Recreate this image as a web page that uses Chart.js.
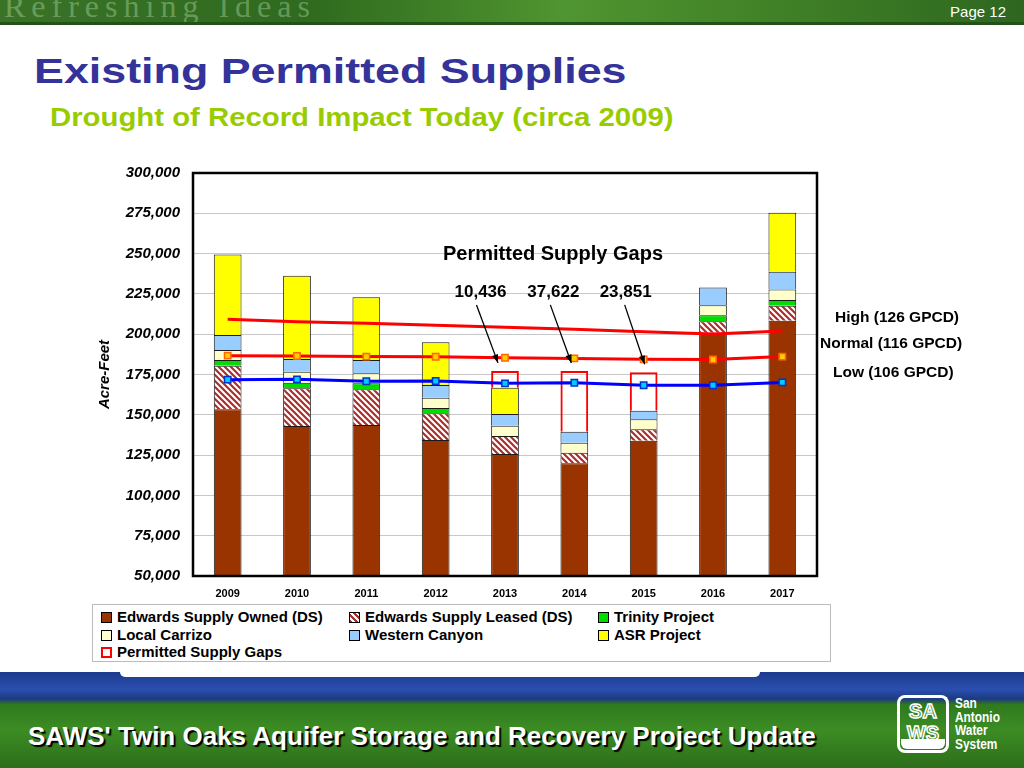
<!DOCTYPE html>
<html>
<head>
<meta charset="utf-8">
<script src="https://cdn.jsdelivr.net/npm/chart.js@4"></script>
<style>
  body { margin: 0; width: 1024px; height: 768px; overflow: hidden; background: #fff; font-family: "Liberation Sans", Arial, sans-serif; }
  #slide { position: relative; width: 1024px; height: 768px; }
  #top { position: absolute; left: 0; top: 0; width: 1024px; height: 22px;
    background: linear-gradient(90deg, #3a7328 0%, #2f6a1e 30%, #4f9530 55%, #3d7d25 80%, #2e6620 100%);
    border-bottom: 3px solid #24501a; overflow: hidden; }
  #top .ghost { position: absolute; left: 4px; top: -10px; font: 32px/32px "Liberation Serif", serif; letter-spacing: 6px; color: rgba(190,225,180,0.4); }
  #top .page { position: absolute; right: 18px; top: 3px; font: 15px "Liberation Sans", Arial; color: #fff; }
  h1 { position: absolute; left: 34px; top: 53px; margin: 0; font: bold 35px/35px "Liberation Sans", Arial; color: #333399; transform: scaleX(1.28); transform-origin: left top; white-space: nowrap; }
  h2 { position: absolute; left: 50px; top: 104px; margin: 0; font: bold 25.5px/26px "Liberation Sans", Arial; color: #99cc00; transform: scaleX(1.15); transform-origin: left top; white-space: nowrap; }
  #wrap { position: absolute; left: 90px; top: 160px; width: 910px; height: 440px; }
  #legend { position: absolute; left: 92px; top: 604px; width: 737px; height: 56px; border: 1px solid #bbb; }
  .li { position: absolute; font: bold 15px "Liberation Sans", Arial; color: #000; white-space: nowrap; }
  .li span.m { position: absolute; left: 0; top: 4px; width: 9px; height: 9px; border: 1px solid #000; }
  .li span.t { position: absolute; left: 16px; top: 0; }
  #foot { position: absolute; left: 0; top: 672px; width: 1024px; height: 96px;
    background: linear-gradient(180deg, #1d3a8c 0%, #2a4fb0 18%, #1c3a80 28%, #2f7a1e 34%, #3c8c24 60%, #2c6e1a 100%); }
  #foot .cap { position: absolute; left: 0; top: 0; width: 1024px; height: 5px; }
  #foot .cap div { position: absolute; left: 120px; top: 0; width: 640px; height: 5px; background: #fff; border-radius: 0 0 18px 18px; }
  #foot .txt { position: absolute; left: 28px; top: 49px; font: bold 26px "Liberation Sans", Arial; color: #fff; text-shadow: 2px 2px 1px #000; white-space: nowrap; }
  #logo { position: absolute; left: 897px; top: 695px; width: 52px; height: 58px; }
  #logo .a { position: absolute; left: 0; top: 0; width: 52px; height: 30px; border: 3px solid #fff; border-bottom: none; border-radius: 8px 8px 0 0; box-sizing: border-box;
    font: bold 20px/26px "Liberation Sans", Arial; color: transparent; -webkit-text-stroke: 1.5px #fff; text-align: center; }
  #logo .b { position: absolute; left: 0; top: 28px; width: 52px; height: 30px; border: 3px solid #fff; border-top: none; border-radius: 0 0 8px 8px; box-sizing: border-box;
    font: bold 20px/20px "Liberation Sans", Arial; color: transparent; -webkit-text-stroke: 1.5px #fff; text-align: center; }
  #logo .w { position: absolute; left: 4px; top: 44px; width: 44px; height: 10px; background: #fff; border-radius: 0 0 6px 6px; }
  #logotxt { position: absolute; left: 955px; top: 697px; font: bold 14px/13.5px "Liberation Sans", Arial; color: #fff; transform: scaleX(0.85); transform-origin: left top; }
</style>
</head>
<body>
<div id="slide">
  <div id="top"><div class="ghost">Refreshing Ideas</div><div class="page">Page 12</div></div>
  <h1>Existing Permitted Supplies</h1>
  <h2>Drought of Record Impact Today (circa 2009)</h2>
  <div id="wrap"><canvas id="chart" width="910" height="440"></canvas></div>
  <div id="legend"></div>
  <div id="foot"><div class="cap"><div></div></div><div class="txt">SAWS' Twin Oaks Aquifer Storage and Recovery Project Update</div></div>
  <div id="logo"><div class="a">SA</div><div class="b">WS</div><div class="w"></div></div>
  <div id="logotxt">San<br>Antonio<br>Water<br>System</div>
</div>
<script>
// values (acre-feet)
var years = ['2009', '2010', '2011', '2012', '2013', '2014', '2015', '2016', '2017'];
var owned    = [153400, 143000, 143700, 134400, 125700, 119900, 133900, 200900, 208400];
var leased   = [27000, 23400, 22100, 16500, 11100, 6600, 7100, 7100, 9300];
var trinity  = [3600, 3500, 3700, 3300, null, null, null, 3700, 3500];
var carrizo  = [6200, 6800, 6200, 6400, 6400, 6200, 6200, 6200, 6600];
var western  = [9300, 7900, 8300, 7900, 7300, 6800, 5300, 11000, 11000];
var asr      = [50000, 51700, 38900, 26500, 16300, null, null, null, 36600];
var gaps     = [null, null, null, null, 10436, 37622, 23851, null, null];
var highDemand   = [209200, 207800, 206800, 205500, 204300, 203000, 201500, 200100, 202000];
var normalDemand = [186700, 186500, 186100, 186000, 185400, 185000, 184400, 184300, 186100];
var lowDemand    = [171800, 172000, 170800, 171000, 169500, 169900, 168300, 168300, 170100];
var yTicks = [50000, 75000, 100000, 125000, 150000, 175000, 200000, 225000, 250000, 275000, 300000];
var legendNames = ['Edwards Supply Owned (DS)', 'Edwards Supply Leased (DS)', 'Trinity Project',
  'Local Carrizo', 'Western Canyon', 'ASR Project', 'Permitted Supply Gaps'];
var lineNames = ['High (126 GPCD)', 'Normal (116 GPCD)', 'Low (106 GPCD)'];

var FONT = '"Liberation Sans", Arial, sans-serif';
var canvas = document.getElementById('chart');
var ctx = canvas.getContext('2d');

function hatch() {
  var c = document.createElement('canvas');
  c.width = c.height = 6;
  var x = c.getContext('2d');
  x.fillStyle = '#fff';
  x.fillRect(0, 0, 6, 6);
  x.strokeStyle = '#a8302c';
  x.lineWidth = 2.2;
  x.beginPath();
  x.moveTo(-1, -1); x.lineTo(7, 7);
  x.moveTo(-4, 2); x.lineTo(4, 10);
  x.moveTo(2, -4); x.lineTo(10, 4);
  x.stroke();
  return ctx.createPattern(c, 'repeat');
}

var fills = ['#993300', hatch(), '#00dd00', '#ffffcc', '#99ccff', '#ffff00', 'rgba(0,0,0,0)'];
var stacks = [owned, leased, trinity, carrizo, western, asr, gaps];

var datasets = stacks.map(function (d, i) {
  var isGap = i === 6;
  return {
    type: 'bar', label: legendNames[i], data: d, order: 2,
    backgroundColor: fills[i],
    borderColor: isGap ? '#ff0000' : '#1a1a1a',
    borderWidth: isGap ? 2 : 1,
    barPercentage: 0.8, categoryPercentage: 0.5
  };
});
datasets.push({
  type: 'line', label: lineNames[0], data: highDemand, stack: 'high', order: 0,
  borderColor: '#ff0000', borderWidth: 3, pointRadius: 0, tension: 0
});
datasets.push({
  type: 'line', label: lineNames[1], data: normalDemand, stack: 'normal', order: 0,
  borderColor: '#ff0000', borderWidth: 3, tension: 0,
  pointStyle: 'rect', pointRadius: 4.5, pointBackgroundColor: '#ffcc00', pointBorderColor: '#ff6600', pointBorderWidth: 1.5
});
datasets.push({
  type: 'line', label: lineNames[2], data: lowDemand, stack: 'low', order: 0,
  borderColor: '#0000ff', borderWidth: 3, tension: 0,
  pointStyle: 'rect', pointRadius: 4.5, pointBackgroundColor: '#00ccff', pointBorderColor: '#0033cc', pointBorderWidth: 1.5
});

var extras = {
  id: 'extras',
  afterDraw: function (chart) {
    var c = chart.ctx, a = chart.chartArea;
    var xs = chart.scales.x, ys = chart.scales.y;
    c.save();
    c.strokeStyle = '#000';
    c.lineWidth = 2.5;
    c.strokeRect(a.left, a.top, a.right - a.left, a.bottom - a.top);

    // gap annotation
    c.fillStyle = '#000';
    c.textAlign = 'center';
    c.textBaseline = 'alphabetic';
    c.font = 'bold 20px ' + FONT;
    c.fillText('Permitted Supply Gaps', xs.getPixelForValue(4) + 48, ys.getPixelForValue(250000) + 6);
    var offs = { 4: -24.5, 5: -21, 6: -18 };
    var arrowOff = { 4: -4, 5: -3, 6: -1 };
    gaps.forEach(function (g, i) {
      if (!g) return;
      var cx = xs.getPixelForValue(i);
      var lx = cx + offs[i];
      var ly = ys.getPixelForValue(225000) + 3;
      c.font = 'bold 17px ' + FONT;
      c.fillText(g.toLocaleString('en-US'), lx, ly);
      // arrow down to the top of the gap box
      var total = 0;
      stacks.forEach(function (s) { total += s[i] || 0; });
      var x0 = lx + arrowOff[i], y0 = ly + 8, x1 = cx - 7 + (i - 4) * 4, y1 = ys.getPixelForValue(total) - 8;
      c.strokeStyle = '#000';
      c.lineWidth = 1.3;
      c.beginPath(); c.moveTo(x0, y0); c.lineTo(x1, y1); c.stroke();
      var ang = Math.atan2(y1 - y0, x1 - x0);
      c.beginPath();
      c.moveTo(x1, y1);
      c.lineTo(x1 - 9 * Math.cos(ang - 0.35), y1 - 9 * Math.sin(ang - 0.35));
      c.lineTo(x1 - 9 * Math.cos(ang + 0.35), y1 - 9 * Math.sin(ang + 0.35));
      c.closePath(); c.fill();
    });

    // demand line labels on the right
    c.textAlign = 'left';
    c.textBaseline = 'middle';
    c.font = 'bold 15.5px ' + FONT;
    var lbl = [[7, 18, -13], [8, 3, -13], [9, 16, -10]];
    lbl.forEach(function (l, k) {
      var pts = chart.getDatasetMeta(l[0]).data;
      var p = pts[pts.length - 1];
      c.fillText(lineNames[k], a.right + l[1], p.y + l[2]);
    });
    c.restore();
  }
};

new Chart(ctx, {
  data: { labels: years, datasets: datasets },
  options: {
    responsive: false,
    animation: false,
    layout: { padding: { top: 13, right: 183, left: 0, bottom: 0 } },
    plugins: { legend: { display: false }, tooltip: { enabled: false } },
    scales: {
      x: {
        stacked: true,
        grid: { display: false },
        border: { display: false },
        ticks: { color: '#000', font: { family: FONT, size: 11, weight: 'bold' }, padding: 3, maxRotation: 0 },
        afterFit: function (s) { s.height = 24; }
      },
      y: {
        stacked: true,
        min: yTicks[0], max: yTicks[yTicks.length - 1],
        afterBuildTicks: function (s) { s.ticks = yTicks.map(function (v) { return { value: v }; }); },
        grid: { color: '#c8c8c8', lineWidth: 1, drawTicks: false },
        border: { display: false },
        ticks: {
          color: '#000', padding: 13,
          font: { family: FONT, size: 15, weight: 'bold', style: 'italic' },
          callback: function (v) { return v.toLocaleString('en-US'); }
        },
        title: { display: true, text: 'Acre-Feet', color: '#000', padding: { top: 6, bottom: 0 },
          font: { family: FONT, size: 15, weight: 'bold', style: 'italic' } },
        afterFit: function (s) { s.width = 103; s.paddingTop = 0; s.paddingBottom = 0; }
      }
    }
  },
  plugins: [extras]
});

// legend built from the same series names / colours
var leg = document.getElementById('legend');
var swatch = ['#993300', 'repeating-linear-gradient(45deg, #a8302c 0 2px, #fff 2px 4px)', '#00dd00',
  '#ffffcc', '#99ccff', '#ffff00', '#fff'];
var colX = [8, 256, 505], rowY = [3, 21, 38];
legendNames.forEach(function (n, i) {
  var d = document.createElement('div');
  d.className = 'li';
  d.style.left = colX[i % 3] + 'px';
  d.style.top = rowY[Math.floor(i / 3)] + 'px';
  var m = document.createElement('span');
  m.className = 'm';
  m.style.background = swatch[i];
  if (i === 6) { m.style.border = '2px solid #ff0000'; m.style.width = '7px'; m.style.height = '7px'; }
  var t = document.createElement('span');
  t.className = 't';
  t.textContent = n;
  d.appendChild(m); d.appendChild(t);
  leg.appendChild(d);
});
</script>
</body>
</html>
